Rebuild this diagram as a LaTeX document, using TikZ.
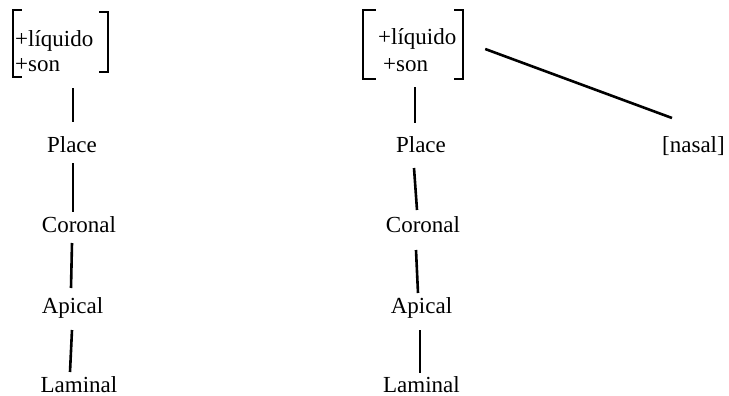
\documentclass[tikz,border=0pt]{standalone}
\usepackage{fontspec}
\setmainfont{Liberation Serif}
\usetikzlibrary{fit}
\tikzset{
  lbl/.style={inner sep=0pt, anchor=base, font=\fontsize{23}{27}\selectfont},
  feat/.style={inner sep=0pt, anchor=base west, font=\fontsize{23}{27}\selectfont},
  region/.style={inner sep=0pt, draw=none},
  edge/.style={line width=2.6pt},
  brack/.style={line width=2.3pt, line cap=rect},
}
\begin{document}
\begin{tikzpicture}[x=1pt, y=-1pt]
  \useasboundingbox (0,0) rectangle (729,396);

  % left tree: feature bundle
  \node[feat] (la) at (15,47) {+líquido};
  \node[feat] (lb) at (15,72) {+son};
  \node[region, fit={(13,10) (108,77)}] (lfeat) {};
  \draw[brack] ([shift={(8,0)}]lfeat.north west) -- (lfeat.north west)
               -- (lfeat.south west) -- ++(8,0);
  \draw[brack] ([shift={(-8,2)}]lfeat.north east) -- ++(8,0)
               -- ([shift={(0,-5)}]lfeat.south east) -- ++(-8,0);

  \node[lbl] (lplace) at (72,152) {Place};
  \node[lbl] (lcor)   at (79,232) {Coronal};
  \node[lbl] (lapi)   at (72.5,313) {Apical};
  \node[lbl] (llam)   at (79,392) {Laminal};

  \draw[edge] ([shift={(12.5,11)}]lfeat.south) -- ([shift={(1,-30)}]lplace.base);
  \draw[edge] ([shift={(1,11)}]lplace.base) -- ([shift={(-6,-20)}]lcor.base);
  \draw[edge] ([shift={(-7,11)}]lcor.base) -- ([shift={(-1.5,-25)}]lapi.base);
  \draw[edge] ([shift={(-0.5,17)}]lapi.base) -- ([shift={(-9,-20)}]llam.base);

  % right tree: feature bundle with nasal branch
  \node[feat] (ra) at (378,45) {+líquido};
  \node[feat] (rb) at (383,72) {+son};
  \node[region, fit={(363,10) (463,79)}] (rfeat) {};
  \draw[brack] ([shift={(12,0)}]rfeat.north west) -- (rfeat.north west)
               -- (rfeat.south west) -- ++(12,0);
  \draw[brack] ([shift={(-8,0)}]rfeat.north east) -- (rfeat.north east)
               -- (rfeat.south east) -- ++(-8,0);

  \node[lbl] (rplace) at (421,152) {Place};
  \node[lbl] (rcor)   at (423,232) {Coronal};
  \node[lbl] (rapi)   at (421.5,313) {Apical};
  \node[lbl] (rlam)   at (421.5,392) {Laminal};
  \node[lbl] (nasal)  at (693.5,152) {[nasal]};

  \draw[edge] ([shift={(2,8)}]rfeat.south) -- ([shift={(-6,-29)}]rplace.base);
  \draw[edge] ([shift={(-7,16)}]rplace.base) -- ([shift={(-6,-22)}]rcor.base);
  \draw[edge] ([shift={(-7,18)}]rcor.base) -- ([shift={(-3.5,-20)}]rapi.base);
  \draw[edge] ([shift={(-1.5,17)}]rapi.base) -- ([shift={(-1.5,-19)}]rlam.base);
  \draw[edge] ([shift={(22,4.5)}]rfeat.east) -- ([shift={(-21.5,-34)}]nasal.base);
\end{tikzpicture}
\end{document}
